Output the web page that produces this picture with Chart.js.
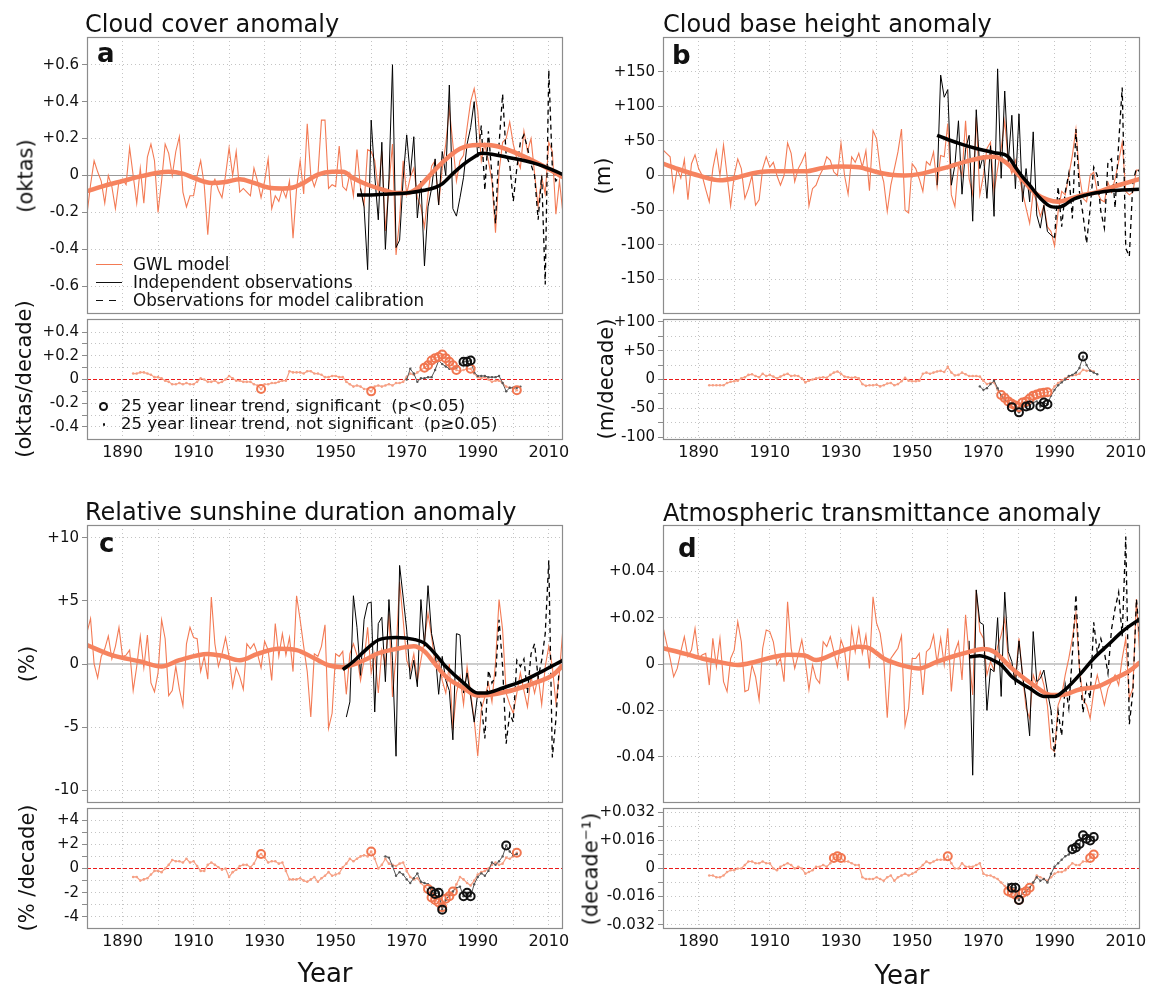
<!DOCTYPE html>
<html>
<head>
<meta charset="utf-8">
<title>Cloud, cloud base, sunshine and transmittance anomalies</title>
<script src="https://cdn.jsdelivr.net/npm/chart.js@4.4.1/dist/chart.umd.min.js"></script>
<style>
  html, body { margin: 0; padding: 0; background: #fff; }
  #fig { position: relative; width: 1151px; height: 986px; overflow: hidden;
         font-family: "DejaVu Sans", sans-serif; color: #111; }
  #fig canvas { position: absolute; }
  .t { position: absolute; white-space: pre; line-height: 1; }
</style>
</head>
<body>
<div id="fig"></div>
<script>
// ---- shared axis data ----
const X_MIN = 1880, X_MAX = 2014;
const yearTicks = [1890, 1900, 1910, 1920, 1930, 1940, 1950, 1960, 1970, 1980, 1990, 2000, 2010];
const yearLabels = ['1890', '', '1910', '', '1930', '', '1950', '', '1970', '', '1990', '', '2010'];

// ---- a: cloud cover (oktas) ----
const cloudTicks = [-0.6, -0.4, -0.2, 0, 0.2, 0.4, 0.6];
const cloudLabels = ['-0.6', '-0.4', '-0.2', '0', '+0.2', '+0.4', '+0.6'];
const cloudGwl = [ // 1880-2014
  -0.21, -0.05, 0.08, 0.02, -0.03, -0.15, 0.00, -0.06, -0.18, -0.03,
  -0.02, -0.05, 0.15, 0.00, -0.15, 0.04, -0.15, 0.10, 0.17, 0.08,
  -0.20, -0.03, 0.17, 0.12, 0.00, 0.13, 0.21, -0.09, -0.17, -0.11,
  -0.11, 0.00, 0.08, -0.05, -0.32, -0.06, -0.02, -0.08, -0.12, 0.00,
  0.15, 0.00, 0.13, -0.09, -0.07, -0.09, -0.11, 0.04, -0.03, -0.12,
  -0.03, 0.09, -0.18, -0.11, -0.14, -0.07, -0.12, -0.03, -0.34, -0.07,
  0.08, -0.10, 0.28, 0.00, -0.06, 0.00, 0.30, 0.30, -0.07, -0.05,
  -0.06, 0.16, -0.06, -0.08, 0.01, -0.11, 0.14, -0.07, -0.16, 0.14,
  0.13, 0.08, -0.08, 0.13, -0.30, -0.05, 0.17, -0.43, -0.24, 0.08,
  -0.10, -0.01, 0.04, -0.12, -0.17, -0.28, -0.10, 0.05, 0.08, -0.16,
  0.04, 0.17, 0.36, 0.17, -0.03, 0.08, 0.11, 0.26, 0.40, 0.47,
  0.35, 0.08, 0.17, 0.08, -0.03, -0.31, 0.02, 0.18, 0.20, 0.29,
  0.17, 0.09, 0.04, 0.24, 0.13, 0.20, 0.01, -0.17, -0.01, -0.10,
  0.18, 0.13, -0.21, -0.03, -0.21];
const cloudObsStart = 1957;
const cloudObs = [-0.07, -0.17, -0.51, 0.30, 0.00, -0.24, 0.18, -0.40, -0.02, 0.60,
  -0.39, -0.35, -0.02, 0.22, 0.00, 0.21, -0.23, -0.03, -0.49, -0.17,
  -0.07, 0.09, -0.16, 0.13, 0.00, 0.49, -0.18, -0.22, -0.12, -0.01,
  0.17, 0.26, 0.40, 0.10];
const cloudCalStart = 1990;
const cloudCal = [0.10, 0.27, -0.08, 0.24, 0.00, -0.26, 0.17, 0.44, 0.11, 0.06,
  -0.14, 0.04, 0.18, 0.22, 0.15, 0.06, 0.00, -0.24, 0.00, -0.59,
  0.57, 0.04, -0.03, 0.00, 0.02];
const cloudSmoothYears = [1880, 1885, 1890, 1895, 1900, 1903, 1907, 1911, 1915, 1919, 1923, 1927,
  1931, 1935, 1938, 1941, 1945, 1949, 1952, 1955, 1959, 1963, 1967, 1970, 1973, 1976, 1980,
  1985, 1990, 1993, 1997, 2001, 2005, 2010, 2014];
const cloudSmooth = [-0.085, -0.055, -0.03, -0.005, 0.015, 0.02, 0.01, -0.02, -0.04, -0.035, -0.02, -0.04,
  -0.065, -0.07, -0.065, -0.04, 0.005, 0.02, 0.02, -0.015, -0.05, -0.075, -0.095, -0.095, -0.07, -0.01, 0.07,
  0.145, 0.165, 0.165, 0.15, 0.12, 0.085, 0.035, -0.01];
const cloudObsSmoothYears = [1956, 1960, 1965, 1970, 1975, 1978, 1980, 1983, 1986, 1989, 1991, 1994,
  1998, 2002, 2007, 2011, 2014];
const cloudObsSmooth = [-0.105, -0.105, -0.1, -0.095, -0.08, -0.065, -0.045, 0.01, 0.06, 0.1, 0.12, 0.115,
  0.1, 0.085, 0.06, 0.03, 0.005];
const cloudTrendTicks = [-0.4, -0.3, -0.2, -0.1, 0, 0.1, 0.2, 0.3, 0.4];
const cloudTrendLabels = ['-0.4', '', '-0.2', '', '0', '', '+0.2', '', '+0.4'];
const cloudTrendGwlStart = 1893;
const cloudTrendGwl = [0.05, 0.05, 0.06, 0.06, 0.05, 0.04, 0.02,
  0.02, 0.01, -0.01, -0.02, -0.04, -0.04, -0.03, -0.04, -0.03, -0.04,
  -0.04, -0.02, 0.01, 0.00, -0.02, -0.02, -0.01, -0.03, -0.02, 0.00,
  0.03, 0.01, -0.01, -0.01, -0.02, -0.02, -0.02, -0.04, -0.05, -0.08,
  -0.04, -0.04, -0.03, -0.03, -0.02, -0.01, -0.01, 0.07, 0.06, 0.06,
  0.06, 0.05, 0.07, 0.07, 0.05, 0.05, 0.04, 0.02, 0.02, 0.03,
  0.03, 0.02, 0.02, -0.02, -0.04, -0.06, -0.05, -0.06, -0.08, -0.08,
  -0.10, -0.06, -0.05, -0.06, -0.05, -0.04, -0.05, -0.03, -0.03, -0.02,
  0.02, 0.05, 0.04, 0.06, 0.08, 0.10, 0.12, 0.16, 0.18, 0.19,
  0.21, 0.18, 0.15, 0.12, 0.08, 0.07, 0.08, 0.09, 0.09, 0.05,
  0.02, 0.01, 0.02, 0.00, -0.02, -0.01, -0.01, -0.03, -0.06, -0.07,
  -0.07, -0.09];
const cloudSigGwl = [1929, 1960, 1975, 1976, 1977, 1978, 1979, 1980, 1981, 1982, 1983, 1984, 1988, 2001];
const cloudTrendObsStart = 1970;
const cloudTrendObs = [0.00, 0.09, 0.05, -0.02, 0.01, 0.01, 0.02, 0.02, 0.08, 0.16,
  0.13, 0.11, 0.09, 0.09, 0.10, 0.13, 0.15, 0.15, 0.16, 0.06,
  0.03, 0.03, 0.03, 0.02, 0.02, 0.02, 0.03, -0.03, -0.10, -0.07,
  -0.07, -0.07, -0.06];
const cloudSigObs = [1986, 1987, 1988];

// ---- b: cloud base height (m) ----
const baseTicks = [-150, -100, -50, 0, 50, 100, 150];
const baseLabels = ['-150', '-100', '-50', '0', '+50', '+100', '+150'];
const baseGwl = [ // 1880-2014
  37, 32, 27, -22, 10, -4, 23, -35, 17, 30,
  10, 0, -20, -38, 10, 36, 0, 44, 0, -44,
  0, 24, 10, -33, -19, 0, -43, -35, 10, 27,
  12, 19, 0, -14, 0, 47, 32, -9, 10, 20,
  32, -44, -19, -14, 0, 10, 27, 22, 5, 0,
  47, 0, -27, 27, 19, 32, 12, 36, -22, 65,
  53, 10, -9, -52, -14, 10, 34, 67, -50, -54,
  17, 10, -5, -23, 20, 15, 34, -16, 29, 27,
  75, -28, -45, 15, 0, 79, -5, -28, 84, -28,
  0, 39, 48, -24, 10, 39, 79, 20, 3, 22,
  0, -24, -47, -69, -24, -38, -59, -43, -74, -81,
  -102, -52, -23, -28, 0, 29, 67, 0, -33, -38,
  0, 5, -24, -35, -38, -10, -24, -5, 20, 48,
  -23, -28, -24, 8, 8];
const baseObsStart = 1957;
const baseObs = [-14, 145, 113, 124, -14, 15, 79, -27, 38, 58,
  -66, 95, 10, 29, -33, 43, -59, 154, -4, 122,
  19, 87, -19, 89, -38, 10, -38, 63, -57, -76,
  -43, -81, -86, -90];
const baseCalStart = 1990;
const baseCal = [-90, -16, -74, -24, 3, -62, 67, -24, -57, -98,
  -47, 12, 0, -52, -76, 20, 24, -47, 46, 127,
  -105, -117, -9, 10, 5];
const baseSmoothYears = [1880, 1885, 1890, 1896, 1900, 1905, 1910, 1915, 1920, 1925, 1930, 1935,
  1940, 1944, 1948, 1952, 1956, 1960, 1965, 1970, 1973, 1976, 1979, 1982, 1985, 1988, 1991,
  1994, 1998, 2002, 2006, 2010, 2014];
const baseSmooth = [17, 8, 0, -7, -4, 3, 6, 6, 6, 11, 13, 12,
  5, 1, 0, 2, 7, 12, 20, 26, 27, 20, 6, -12, -27, -35, -38,
  -34, -28, -24, -17, -11, -5];
const baseObsSmoothYears = [1957, 1960, 1964, 1968, 1973, 1977, 1979, 1981, 1983, 1986, 1989, 1991,
  1993, 1995, 1999, 2004, 2009, 2014];
const baseObsSmooth = [58, 52, 45, 39, 33, 27, 12, -2, -14, -33, -45, -46,
  -42, -35, -28, -23, -21, -20];
const baseTrendTicks = [-100, -75, -50, -25, 0, 25, 50, 75, 100];
const baseTrendLabels = ['-100', '', '-50', '', '0', '', '+50', '', '+100'];
const baseTrendGwlStart = 1893;
const baseTrendGwl = [-10, -10, -10, -10, -10, -6, -4,
  -3, -2, 2, 4, 8, 9, 6, 4, 10, 6,
  8, 5, 2, 5, 8, 10, 6, 7, 6, 2,
  -5, -2, 0, 2, 3, 4, 3, 8, 12, 14,
  10, 5, 4, 3, 4, 2, -8, -11, -10, -10,
  -9, -12, -10, -7, -6, -10, -8, -3, 3, -2,
  -3, -3, -2, 10, 12, 10, 12, 14, 15, 13,
  22, 12, 7, 8, 12, 9, 6, 6, 6, 5,
  -2, -8, -6, -5, -18, -27, -32, -38, -42, -45,
  -48, -40, -38, -33, -28, -26, -24, -23, -22, -20,
  -12, -6, -2, 2, 5, 7, 8, 10, 17, 15,
  16, 14];
const baseSigGwl = [1975, 1976, 1977, 1978, 1979, 1980, 1981, 1982, 1983, 1984, 1985, 1986, 1987, 1988];
const baseTrendObsStart = 1969;
const baseTrendObs = [-12, -18, -15, -8, -2, -15, -28, -35, -40, -48, -50,
  -57, -48, -47, -45, -40, -38, -47, -40, -43, -28,
  -18, -10, -5, 0, 6, 8, 12, 20, 40, 25,
  15, 12, 9];
const baseSigObs = [1978, 1980, 1982, 1983, 1986, 1987, 1988, 1998];

// ---- c: relative sunshine duration (%) ----
const sunTicks = [-10, -5, 0, 5, 10];
const sunLabels = ['-10', '-5', '0', '+5', '+10'];
const sunGwl = [ // 1880-2014
  2.5, 3.6, 0.0, -1.1, 0.6, 1.2, 2.2, 0.4, 1.4, 2.9,
  0.6, 0.7, 1.1, -2.1, -0.2, 2.2, -0.3, 2.3, -1.5, -2.2,
  -0.7, 3.5, 2.0, -2.5, -2.1, -0.2, -2.0, -3.3, 1.6, 2.9,
  2.1, 2.0, -0.6, 0.6, -1.2, 5.3, 1.6, -0.2, 0.8, 2.1,
  0.6, -1.8, -0.3, -1.0, -2.0, 1.6, 1.2, 1.6, 0.8, -0.3,
  1.8, 1.1, -1.3, 3.2, 0.6, 2.4, 0.7, 2.1, -0.6, 5.4,
  3.5, 1.4, -0.6, -4.2, 0.8, 0.6, 1.4, 3.1, -5.1, -3.9,
  0.8, 0.6, 1.0, -2.4, 0.8, 1.6, 0.7, -1.3, 0.3, 2.9,
  -0.7, 0.8, -2.3, 1.1, 0.0, 4.0, -2.6, 0.8, 6.5, 3.5,
  0.3, -0.5, 0.8, -1.3, 0.3, 1.9, 4.0, 2.2, 0.0, 0.3,
  -1.3, -2.3, 0.0, -5.2, -2.3, -1.0, -3.2, -0.2, -2.3, -4.4,
  -7.3, -3.6, -2.6, -1.5, -3.0, 0.1, 5.1, 2.7, -2.3, -3.2,
  -3.9, -2.3, -0.7, -2.1, -3.4, -1.0, -2.3, -1.0, -3.2, -0.2,
  1.4, -0.2, -3.1, -0.7, 2.9];
const sunObsStart = 1953;
const sunObs = [-4.2, -3.0, 5.4, 2.9, -0.9, 3.5, 4.8, 4.9, -3.8, 3.2,
  3.7, -1.4, 5.1, 0.3, -7.3, 7.8, 5.3, 2.7, -1.2, 0.3,
  -1.8, 5.1, 1.4, 6.2, 2.4, 1.0, -2.4, 0.6, -1.3, -2.1,
  -6.0, 2.4, 2.3, -2.3, -0.7, -2.6, -4.6, -2.3];
const sunCalStart = 1990;
const sunCal = [-2.3, -3.2, -5.9, -0.5, -1.5, -1.0, 3.5, -0.2, -6.3, -3.9,
  -4.6, 0.3, -0.2, 0.4, -2.3, 0.8, 1.6, -1.1, 0.3, 2.4,
  8.2, -7.4, -4.4, 0.0, 0.5];
const sunSmoothYears = [1880, 1887, 1895, 1901, 1906, 1914, 1918, 1923, 1928, 1934, 1939, 1944,
  1948, 1952, 1958, 1962, 1968, 1972, 1975, 1978, 1981, 1986, 1990, 1993, 1998, 2003, 2007,
  2011, 2014];
const sunSmooth = [1.5, 0.7, 0.2, -0.2, 0.3, 0.8, 0.65, 0.3, 0.8, 1.2, 1.1, 0.45,
  -0.1, -0.25, 0.3, 0.85, 1.25, 1.4, 1.0, 0.0, -1.0, -1.9, -2.5, -2.45, -2.2, -1.8, -1.4,
  -0.9, -0.1];
const sunObsSmoothYears = [1952, 1955, 1959, 1962, 1967, 1972, 1975, 1978, 1981, 1986, 1990, 1992,
  1997, 2003, 2008, 2014];
const sunObsSmooth = [-0.45, 0.2, 1.25, 1.9, 2.1, 1.95, 1.65, 0.8, -0.2, -1.5, -2.3, -2.3,
  -1.9, -1.3, -0.6, 0.3];
const sunTrendTicks = [-4, -3, -2, -1, 0, 1, 2, 3, 4];
const sunTrendLabels = ['-4', '', '-2', '', '0', '', '+2', '', '+4'];
const sunTrendGwlStart = 1893;
const sunTrendGwl = [-0.7, -0.7, -1.0, -0.9, -0.8, -0.5, -0.2,
  -0.2, -0.3, 0.0, 0.3, 0.7, 0.6, 0.6, 0.5, 0.8, 0.5,
  0.6, 0.2, -0.2, -0.2, 0.3, 0.5, 0.3, 0.1, -0.1, 0.0,
  -0.7, -0.3, -0.1, 0.2, 0.3, 0.3, 0.1, 0.4, 1.0, 1.2,
  0.9, 0.5, 0.6, 0.6, 0.4, 0.5, -0.2, -0.9, -0.9, -0.9,
  -0.8, -1.0, -1.1, -0.9, -0.7, -1.1, -0.8, -0.6, -0.3, -0.6,
  -0.5, -0.4, 0.1, 0.4, 0.8, 0.6, 0.8, 1.0, 1.1, 1.0,
  1.4, 0.8, 0.0, 0.3, 0.8, 0.4, 0.3, 0.2, 0.4, 0.5,
  -0.2, -0.7, -0.9, -0.8, -1.2, -1.5, -1.7, -2.4, -2.6, -2.8,
  -3.2, -2.5, -2.3, -1.9, -1.3, -0.7, -0.9, -1.2, -1.4, -1.0,
  -0.5, -0.3, -0.2, 0.0, 0.3, 0.5, 0.3, 0.4, 0.9, 0.8,
  1.0, 1.3];
const sunSigGwl = [1929, 1960, 1976, 1977, 1978, 1979, 1980, 1981, 1982, 1983, 2001];
const sunTrendObsStart = 1964;
const sunTrendObs = [1.0, 0.9, 0.2, -0.6, -0.3, -0.5,
  -0.9, -1.2, -0.8, -0.4, -1.1, -1.2, -1.3, -1.9, -2.1, -2.0,
  -3.4, -2.6, -2.2, -1.9, -1.6, -1.5, -2.3, -2.0, -2.3, -1.3,
  -0.7, -0.4, -0.6, -0.2, 0.5, 0.3, 0.6, 1.0, 1.9, 1.4,
  1.1, 1.2];
const sunSigObs = [1977, 1978, 1979, 1980, 1986, 1987, 1988, 1998];

// ---- d: atmospheric transmittance ----
const transTicks = [-0.04, -0.02, 0, 0.02, 0.04];
const transLabels = ['-0.04', '-0.02', '0', '+0.02', '+0.04'];
const transGwl = [ // 1880-2014
  0.016, 0.009, 0.0024, -0.0055, -0.0019, 0.0053, 0.0118, 0.0032, 0.006, 0.0154,
  0.0024, 0.0039, 0.0046, -0.0091, 0.0111, -0.0012, 0.0111, -0.0076, -0.0119, 0.0024,
  0.006, 0.0183, 0.0096, -0.0119, -0.0112, -0.0004, -0.0055, -0.0155, 0.0068, 0.0147,
  0.014, 0.0096, -0.0004, 0.0024, -0.0076, 0.0269, 0.0068, -0.0019, 0.0039, 0.0104,
  0.001, -0.0112, -0.0004, -0.0062, -0.0083, 0.0096, 0.0075, 0.0118, 0.0053, -0.0012,
  0.0104, 0.006, -0.0072, 0.0154, 0.0053, 0.0154, 0.0046, 0.0125, -0.0019, 0.029,
  0.0176, 0.0132, 0.0024, -0.0232, 0.0024, 0.0046, 0.0068, 0.0122, -0.0266, -0.0191,
  0.0024, 0.0024, 0.0046, -0.0134, 0.0053, 0.0068, 0.0125, 0.0003, 0.0111, -0.0004,
  0.0154, -0.0119, 0.0053, 0.0096, -0.0069, 0.0212, 0.0032, -0.0134, 0.0319, 0.014,
  0.0111, -0.0047, 0.001, -0.0026, 0.0075, 0.0125, 0.0197, 0.0024, -0.0012, -0.0062,
  0.0111, -0.0047, -0.0191, -0.0235, -0.0047, -0.0091, -0.0033, -0.0091, -0.018, -0.0364,
  -0.0378, -0.0177, -0.0134, -0.0047, 0.0024, 0.0111, 0.0219, -0.0019, -0.0155, -0.0177,
  -0.0235, -0.0119, -0.0047, -0.0112, -0.0177, -0.0105, -0.0076, -0.0047, -0.0091, 0.0024,
  0.0111, -0.0148, -0.0105, 0.028, 0.002];
const transObsStart = 1966;
const transObs = [0.010, -0.048, 0.032, 0.018, 0.017, -0.020, -0.002, -0.0033, 0.020, -0.014,
  0.031, 0.0053, 0.001, -0.009, 0.010, -0.0048, -0.0155, -0.031, 0.014, -0.0076,
  -0.0062, -0.0026, -0.012, -0.020];
const transCalStart = 1989;
const transCal = [-0.020, -0.040, -0.0206, -0.031, -0.009, -0.019, 0.004, 0.030, -0.002, -0.021,
  -0.009, -0.015, 0.018, 0.005, 0.011, 0.005, -0.004, 0.015, 0.024, 0.031,
  0.012, 0.055, -0.026, -0.012, 0.028, 0.010];
const transSmoothYears = [1880, 1886, 1891, 1896, 1901, 1906, 1911, 1915, 1920, 1923, 1929, 1935,
  1938, 1942, 1948, 1952, 1957, 1963, 1968, 1970, 1973, 1978, 1984, 1989, 1992, 1997, 2002,
  2007, 2011, 2014];
const transSmooth = [0.0068, 0.0045, 0.0024, 0.0008, -0.0004, 0.001, 0.003, 0.004, 0.0036, 0.0017, 0.005, 0.0075,
  0.0068, 0.0024, -0.0009, -0.0019, 0.001, 0.004, 0.006, 0.0065, 0.0053, -0.0019, -0.009, -0.0134, -0.0134, -0.011, -0.0098,
  -0.0062, -0.003, 0.0007];
const transObsSmoothYears = [1966, 1969, 1972, 1975, 1978, 1983, 1987, 1990, 1993, 1997, 2001, 2005, 2009, 2014];
const transObsSmooth = [0.003, 0.0036, 0.0022, -0.0004, -0.0055, -0.0105, -0.014, -0.014, -0.011, -0.0047,
  0.0024, 0.0082, 0.014, 0.0195];
const transTrendTicks = [-0.032, -0.024, -0.016, -0.008, 0, 0.008, 0.016, 0.024, 0.032];
const transTrendLabels = ['-0.032', '', '-0.016', '', '0', '', '+0.016', '', '+0.032'];
const transTrendGwlStart = 1893;
const transTrendGwl = [-0.004, -0.004, -0.005, -0.005, -0.004, -0.002, -0.001,
  -0.001, 0.000, 0.000, 0.002, 0.004, 0.004, 0.003, 0.003, 0.004, 0.003,
  0.003, 0.000, -0.001, 0.001, 0.002, 0.003, 0.002, 0.000, 0.001, 0.000,
  -0.003, -0.002, -0.001, 0.001, 0.001, 0.002, 0.001, 0.003, 0.006, 0.007,
  0.006, 0.004, 0.004, 0.003, 0.002, 0.002, -0.005, -0.006, -0.006, -0.006,
  -0.005, -0.006, -0.007, -0.005, -0.004, -0.007, -0.005, -0.004, -0.003, -0.004,
  -0.003, -0.002, 0.000, 0.002, 0.004, 0.003, 0.004, 0.005, 0.005, 0.005,
  0.007, 0.003, 0.000, 0.000, 0.003, 0.001, 0.001, 0.001, 0.002, 0.003,
  -0.003, -0.004, -0.004, -0.005, -0.006, -0.008, -0.010, -0.013, -0.014, -0.015,
  -0.018, -0.014, -0.013, -0.011, -0.008, -0.004, -0.005, -0.006, -0.007, -0.005,
  -0.003, -0.002, -0.002, -0.001, 0.001, 0.003, 0.002, 0.002, 0.004, 0.004,
  0.006, 0.008];
const transSigGwl = [1928, 1929, 1930, 1960, 1977, 1978, 1979, 1980, 1981, 1982, 1983, 2000, 2001];
const transTrendObsStart = 1977;
const transTrendObs = [-0.009, -0.011, -0.011,
  -0.018, -0.014, -0.013, -0.011, -0.008, -0.005, -0.007, -0.006, -0.008, -0.003,
  0.001, 0.003, 0.005, 0.007, 0.008, 0.011, 0.012, 0.014, 0.019, 0.017,
  0.016, 0.018];
const transSigObs = [1978, 1979, 1980, 1995, 1996, 1997, 1998, 1999, 2000, 2001];

// ---- styles ----
const FONT = '"DejaVu Sans", sans-serif';
const ORANGE = 'rgb(243,122,84)';
const ORANGE_THICK = 'rgb(246,131,95)';
const ORANGE_LIGHT = 'rgb(246,160,132)';
const ORANGE_RING = 'rgb(241,118,80)';
const GRID = 'rgb(196,196,196)';
const FRAME = 'rgb(140,140,140)';
const LEFT = 80, RIGHT = 12, TOPPAD = 6;

const fig = document.getElementById('fig');

function series(start, vals) { return vals.map((v, i) => ({x: start + i, y: v})); }
function pairs(years, vals) { return years.map((yr, i) => ({x: yr, y: vals[i]})); }
function pick(start, vals, years) { return years.map(yr => ({x: yr, y: vals[yr - start]})); }
function zeroLine() { return [{x: X_MIN, y: 0}, {x: X_MAX, y: 0}]; }

const framePlugin = {
  id: 'frame',
  afterDatasetsDraw(chart) {
    const a = chart.chartArea, c = chart.ctx;
    c.save();
    c.strokeStyle = FRAME;
    c.lineWidth = 1.2;
    c.strokeRect(Math.round(a.left) + 0.5, Math.round(a.top) + 0.5,
      Math.round(a.right - a.left) - 1, Math.round(a.bottom - a.top) - 1);
    c.restore();
  }
};

function noPad(s) {
  s.paddingTop = 0; s.paddingBottom = 0; s.paddingLeft = 0; s.paddingRight = 0;
}

function makeChart(box, yMin, yMax, yTicks, yLabels, datasets, xLabels) {
  const bottomPad = xLabels ? 34 : 6;
  const cv = document.createElement('canvas');
  cv.width = box.x1 - box.x0 + LEFT + RIGHT;
  cv.height = box.y1 - box.y0 + TOPPAD + bottomPad;
  cv.style.left = (box.x0 - LEFT) + 'px';
  cv.style.top = (box.y0 - TOPPAD) + 'px';
  fig.appendChild(cv);
  return new Chart(cv, {
    type: 'line',
    data: {datasets: datasets},
    options: {
      responsive: false,
      animation: false,
      devicePixelRatio: 1,
      events: [],
      layout: {autoPadding: false, padding: {top: TOPPAD, right: RIGHT, left: 0, bottom: 0}},
      plugins: {legend: {display: false}, tooltip: {enabled: false}, title: {display: false}},
      elements: {point: {radius: 0}, line: {tension: 0}},
      scales: {
        x: {
          type: 'linear', min: X_MIN, max: X_MAX,
          afterBuildTicks: s => { s.ticks = yearTicks.map(v => ({value: v})); },
          afterFit: s => { s.height = bottomPad; noPad(s); },
          grid: {color: GRID, lineWidth: 1, drawTicks: false},
          border: {display: false, dash: [1, 3]},
          ticks: {display: !!xLabels, padding: 3, maxRotation: 0, autoSkip: false, color: '#111',
                  font: {family: FONT, size: 16}, callback: (v, i) => yearLabels[i]}
        },
        y: {
          type: 'linear', min: yMin, max: yMax,
          afterBuildTicks: s => { s.ticks = yTicks.map(v => ({value: v})); },
          afterFit: s => { s.width = LEFT; noPad(s); },
          grid: {
            color: c => (c.tick && c.tick.value === 0) ? 'rgba(0,0,0,0)' : GRID,
            lineWidth: 1, drawTicks: true, tickLength: 5, tickColor: FRAME, tickWidth: 1
          },
          border: {display: false, dash: [1, 3]},
          ticks: {padding: 3, autoSkip: false, color: '#111',
                  font: {family: FONT, size: 15}, callback: (v, i) => yLabels[i]}
        }
      }
    },
    plugins: [framePlugin]
  });
}

function mainSets(gwl, obsStart, obs, calStart, cal, smYears, sm, obsSmYears, obsSm) {
  return [
    {data: pairs(obsSmYears, obsSm), borderColor: '#000', borderWidth: 3.5, cubicInterpolationMode: 'monotone', order: 0},
    {data: pairs(smYears, sm), borderColor: ORANGE_THICK, borderWidth: 4.5, cubicInterpolationMode: 'monotone', order: 1},
    {data: series(calStart, cal), borderColor: '#000', borderWidth: 1.3, borderDash: [5, 4], order: 2},
    {data: series(obsStart, obs), borderColor: '#000', borderWidth: 1, order: 3},
    {data: series(X_MIN, gwl), borderColor: ORANGE, borderWidth: 1.1, order: 4},
    {data: zeroLine(), borderColor: '#999', borderWidth: 1, order: 5}
  ];
}

function trendSets(gStart, g, gSig, oStart, o, oSig) {
  return [
    {data: pick(oStart, o, oSig), showLine: false, pointRadius: 4, pointBorderWidth: 2,
     pointBorderColor: '#111', pointBackgroundColor: 'rgba(0,0,0,0)', order: 0},
    {data: pick(gStart, g, gSig), showLine: false, pointRadius: 4, pointBorderWidth: 2,
     pointBorderColor: ORANGE_RING, pointBackgroundColor: 'rgba(0,0,0,0)', order: 1},
    {data: series(oStart, o), borderColor: '#555', borderWidth: 1, pointRadius: 1.2,
     pointBackgroundColor: '#555', pointBorderWidth: 0, order: 2},
    {data: series(gStart, g), borderColor: ORANGE_LIGHT, borderWidth: 1.2, pointRadius: 1.3,
     pointBackgroundColor: ORANGE_LIGHT, pointBorderWidth: 0, order: 3},
    {data: zeroLine(), borderColor: 'rgb(235,25,25)', borderWidth: 1.2, borderDash: [4, 2], order: 4}
  ];
}

// ---- charts ----
makeChart({x0: 87, x1: 563, y0: 37, y1: 314}, -0.75, 0.75, cloudTicks, cloudLabels,
  mainSets(cloudGwl, cloudObsStart, cloudObs, cloudCalStart, cloudCal,
           cloudSmoothYears, cloudSmooth, cloudObsSmoothYears, cloudObsSmooth), false);
makeChart({x0: 87, x1: 563, y0: 319, y1: 440}, -0.51, 0.51, cloudTrendTicks, cloudTrendLabels,
  trendSets(cloudTrendGwlStart, cloudTrendGwl, cloudSigGwl, cloudTrendObsStart, cloudTrendObs, cloudSigObs), true);

makeChart({x0: 663, x1: 1140, y0: 37, y1: 314}, -200, 200, baseTicks, baseLabels,
  mainSets(baseGwl, baseObsStart, baseObs, baseCalStart, baseCal,
           baseSmoothYears, baseSmooth, baseObsSmoothYears, baseObsSmooth), false);
makeChart({x0: 663, x1: 1140, y0: 319, y1: 440}, -105, 105, baseTrendTicks, baseTrendLabels,
  trendSets(baseTrendGwlStart, baseTrendGwl, baseSigGwl, baseTrendObsStart, baseTrendObs, baseSigObs), true);

makeChart({x0: 87, x1: 563, y0: 525, y1: 803}, -11, 11, sunTicks, sunLabels,
  mainSets(sunGwl, sunObsStart, sunObs, sunCalStart, sunCal,
           sunSmoothYears, sunSmooth, sunObsSmoothYears, sunObsSmooth), false);
makeChart({x0: 87, x1: 563, y0: 808, y1: 929}, -5, 5, sunTrendTicks, sunTrendLabels,
  trendSets(sunTrendGwlStart, sunTrendGwl, sunSigGwl, sunTrendObsStart, sunTrendObs, sunSigObs), true);

makeChart({x0: 663, x1: 1140, y0: 525, y1: 803}, -0.06, 0.06, transTicks, transLabels,
  mainSets(transGwl, transObsStart, transObs, transCalStart, transCal,
           transSmoothYears, transSmooth, transObsSmoothYears, transObsSmooth), false);
makeChart({x0: 663, x1: 1140, y0: 808, y1: 929}, -0.0345, 0.0345, transTrendTicks, transTrendLabels,
  trendSets(transTrendGwlStart, transTrendGwl, transSigGwl, transTrendObsStart, transTrendObs, transSigObs), true);

// ---- text ----
function text(str, x, baseline, size, extra) {
  const d = document.createElement('div');
  d.className = 't';
  d.textContent = str;
  d.style.left = x + 'px';
  d.style.top = (baseline - 0.846 * size) + 'px';
  d.style.fontSize = size + 'px';
  if (extra) Object.assign(d.style, extra);
  fig.appendChild(d);
  return d;
}
function vtext(str, cx, cy, size) {
  const d = document.createElement('div');
  d.className = 't';
  d.textContent = str;
  d.style.left = cx + 'px';
  d.style.top = cy + 'px';
  d.style.fontSize = size + 'px';
  d.style.transform = 'translate(-50%, -50%) rotate(-90deg)';
  fig.appendChild(d);
}
function mark(x, y, w, h, style) {
  const d = document.createElement('div');
  d.style.position = 'absolute';
  d.style.left = x + 'px';
  d.style.top = y + 'px';
  d.style.width = w + 'px';
  d.style.height = h + 'px';
  Object.assign(d.style, style);
  fig.appendChild(d);
}

text('Cloud cover anomaly', 85, 32.5, 24);
text('Cloud base height anomaly', 663, 32.5, 24);
text('Relative sunshine duration anomaly', 85, 520.5, 24);
text('Atmospheric transmittance anomaly', 663, 521.5, 24);

const bold = {fontWeight: 'bold'};
text('a', 97, 62, 26, bold);
text('b', 672, 64, 26, bold);
text('c', 99, 552, 26, bold);
text('d', 678, 557, 26, bold);

vtext('(oktas)', 26, 175.5, 21);
vtext('(m)', 603, 175.5, 21);
vtext('(%)', 27, 664, 21);
vtext('(oktas/decade)', 24, 379, 21);
vtext('(m/decade)', 606, 379, 21);
vtext('(% /decade)', 27, 868, 21);
vtext('(decade\u207B\u00B9)', 591, 869, 21);

text('Year', 325, 982, 26, {transform: 'translateX(-50%)'});
text('Year', 902, 984, 26, {transform: 'translateX(-50%)'});

// legend, panel a
mark(96, 264, 26, 0, {borderTop: '1.2px solid ' + ORANGE});
mark(96, 282, 26, 0, {borderTop: '1.2px solid #111'});
mark(96, 300, 26, 1.4, {background: 'repeating-linear-gradient(90deg, #111 0 7px, transparent 7px 13px)'});
text('GWL model', 133, 270, 16.8);
text('Independent observations', 133, 288.3, 16.8);
text('Observations for model calibration', 133, 306.5, 16.8);

// legend, trend subplot a
mark(99, 401.5, 9, 9, {border: '2px solid #111', borderRadius: '50%', boxSizing: 'border-box'});
mark(102.5, 423, 2.5, 2.5, {background: '#111', borderRadius: '50%'});
text('25 year linear trend, significant  (p<0.05)', 121, 411.5, 16.5);
text('25 year linear trend, not significant  (p\u22650.05)', 121, 429.5, 16.5);
</script>
</body>
</html>
